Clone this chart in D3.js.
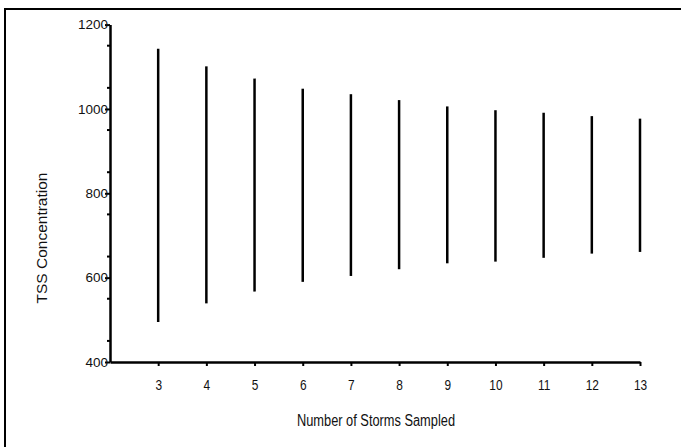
<html lang='eng'>

<head>
    <title>
        TSS range by storms sampled
    </title>
    <script src="https://d3js.org/d3.v7.min.js" charset="utf-8"></script>
    <style>
        body {
            margin: 0;
            background: #fff;
        }

        text {
            font-family: 'Liberation Sans', Arial, sans-serif;
            fill: #111;
        }
    </style>
</head>

<body>
    <script>
        // data
        var storms = [3, 4, 5, 6, 7, 8, 9, 10, 11, 12, 13];
        var highs = [1143, 1101, 1072, 1048, 1035, 1021, 1006, 997, 991, 983, 977];
        var lows = [495, 539, 567, 590, 604, 620, 634, 638, 647, 657, 661];
        var yTicks = [400, 600, 800, 1000, 1200];

        // canvas
        var width = 681, height = 447;

        var svg = d3.select('body')
            .append('svg')
            .attr('width', width)
            .attr('height', height);

        // frame (only top and left edges show)
        svg.append('path')
            .attr('d', 'M5,' + (height + 5) + 'V9H' + (width + 5))
            .attr('fill', 'none')
            .attr('stroke', '#000')
            .attr('stroke-width', 2);

        // scales
        var x = d3.scaleLinear().domain([2, 13]).range([110, 640]);
        var y = d3.scaleLinear().domain([400, 1200]).range([362, 24.6]);

        // minor y ticks
        svg.append('g').selectAll('line')
            .data(d3.range(450, 1200, 100))
            .enter().append('line')
            .attr('x1', 107).attr('x2', 110)
            .attr('y1', function (d) { return y(d); })
            .attr('y2', function (d) { return y(d); })
            .attr('stroke', '#000').attr('stroke-width', 2);

        // y axis
        var yAxis = svg.append('g')
            .attr('transform', 'translate(110,0)')
            .call(d3.axisLeft(y).tickValues(yTicks).tickFormat(d3.format('d'))
                .tickSize(5).tickPadding(-3).tickSizeOuter(0));
        yAxis.attr('font-size', null).attr('font-family', null);
        yAxis.select('.domain').attr('stroke-width', 2.5);
        yAxis.selectAll('.tick line').attr('stroke-width', 2);
        yAxis.selectAll('.tick text').attr('font-size', 13.5).attr('fill', '#222');

        // x axis (labels squeezed a little, like the original)
        var xAxis = svg.append('g')
            .attr('transform', 'translate(0,362)')
            .call(d3.axisBottom(x).tickValues(storms).tickSize(4).tickPadding(0).tickSizeOuter(0));
        xAxis.attr('font-size', null).attr('font-family', null);
        xAxis.select('.domain').attr('stroke-width', 2.5);
        xAxis.selectAll('.tick line').attr('stroke-width', 2);
        xAxis.selectAll('.tick text')
            .attr('font-size', 14).attr('fill', '#222')
            .attr('dy', null).attr('y', 28)
            .attr('transform', 'scale(0.85,1)');

        // range bars
        svg.append('g').selectAll('line')
            .data(storms)
            .enter().append('line')
            .attr('x1', function (d) { return x(d); })
            .attr('x2', function (d) { return x(d); })
            .attr('y1', function (d, i) { return y(highs[i]); })
            .attr('y2', function (d, i) { return y(lows[i]); })
            .attr('stroke', '#000')
            .attr('stroke-width', 2.5);

        // axis titles
        svg.append('text')
            .attr('x', 376).attr('y', 426)
            .attr('text-anchor', 'middle')
            .attr('font-size', 16)
            .attr('textLength', 158)
            .attr('lengthAdjust', 'spacingAndGlyphs')
            .text('Number of Storms Sampled');

        svg.append('text')
            .attr('transform', 'translate(47,238) rotate(-90)')
            .attr('text-anchor', 'middle')
            .attr('font-size', 15.5)
            .text('TSS Concentration');
    </script>
</body>

</html>
